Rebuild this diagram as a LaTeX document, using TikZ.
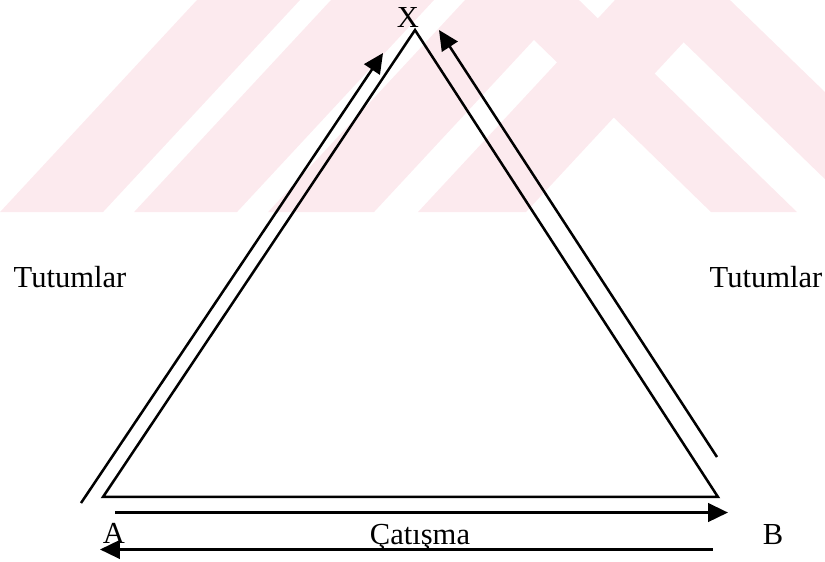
\documentclass[tikz,border=0pt]{standalone}
\usepackage{fontspec}
\setmainfont{Liberation Serif}
\usetikzlibrary{arrows.meta}
\definecolor{wmpink}{RGB}{252,234,238}
\begin{document}
\begin{tikzpicture}[x=1in,y=1in,
  lbl/.style={font=\fontsize{23}{27}\selectfont, anchor=base, inner sep=0pt},
  side/.style={black, line width=1.9pt, line join=miter},
  arr/.style={black, line width=1.9pt, -{Triangle[length=15pt,width=14pt]}}]
\useasboundingbox (0,0) rectangle (8.594,5.844);
% watermark band
\begin{scope}
\clip (0,3.635) rectangle (8.594,5.844);
\fill[wmpink] (0,3.635) -- (1.073,3.635) -- (3.125,5.844) -- (2.052,5.844) -- cycle;
\fill[wmpink] (1.396,3.635) -- (2.469,3.635) -- (4.521,5.844) -- (3.448,5.844) -- cycle;
\fill[wmpink] (2.792,3.635) -- (3.896,3.635) -- (5.948,5.844) -- (4.844,5.844) -- cycle;
\fill[wmpink] (4.354,3.635) -- (5.479,3.635) -- (7.531,5.844) -- (6.406,5.844) -- cycle;
\fill[wmpink] (7.406,3.635) -- (8.302,3.635) -- (6.031,5.844) -- (5.135,5.844) -- cycle;
\fill[wmpink] (8.948,3.635) -- (9.885,3.635) -- (7.604,5.844) -- (6.667,5.844) -- cycle;
\end{scope}
% triangle
\coordinate (apex) at (4.323,5.531);
\coordinate (baseA) at (1.073,0.667);
\coordinate (baseB) at (7.479,0.667);
\draw[side] (apex) -- (baseA) -- (baseB) -- cycle;
% arrows along the sides
\coordinate (leftS) at (0.844,0.604);
\coordinate (leftE) at (3.990,5.292);
\draw[arr] (leftS) -- (leftE);
\coordinate (rightS) at (7.469,1.083);
\coordinate (rightE) at (4.573,5.531);
\draw[arr] (rightS) -- (rightE);
\coordinate (toBs) at (1.198,0.505);
\coordinate (toBe) at (7.583,0.505);
\draw[arr] (toBs) -- (toBe);
\coordinate (toAs) at (7.427,0.12);
\coordinate (toAe) at (1.042,0.12);
\draw[arr] (toAs) -- (toAe);
% labels
\node[lbl] (X) at (4.25,5.5625) {X};
\node[lbl] (A) at (1.1875,0.1875) {A};
\node[lbl] (B) at (8.052,0.167) {B};
\node[lbl] (conflict) at (4.375,0.167) {Çatışma};
\node[lbl] (attL) at (0.729,2.854) {Tutumlar};
\node[lbl] (attR) at (7.979,2.854) {Tutumlar};
\end{tikzpicture}
\end{document}
